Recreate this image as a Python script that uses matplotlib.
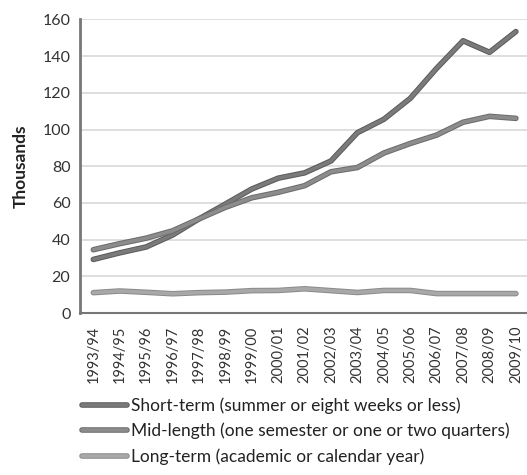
import numpy as np
from matplotlib import pyplot as plt
import matplotlib.patheffects as pe

plt.rcParams['font.family'] = ['Lato', 'DejaVu Sans']

years = ['1993/94', '1994/95', '1995/96', '1996/97', '1997/98', '1998/99',
         '1999/00', '2000/01', '2001/02', '2002/03', '2003/04', '2004/05',
         '2005/06', '2006/07', '2007/08', '2008/09', '2009/10']

# values in thousands
short_term = [29.2, 32.8, 36.0, 42.5, 51.3, 59.4, 67.6, 73.5, 76.4, 82.9,
              98.3, 105.6, 117.0, 133.4, 148.4, 142.1, 153.4]
mid_length = [34.5, 37.8, 40.8, 44.8, 51.3, 57.6, 62.8, 65.8, 69.4, 77.0,
              79.3, 87.2, 92.4, 97.0, 104.0, 107.2, 106.1]
long_term = [11.1, 12.0, 11.3, 10.5, 11.1, 11.4, 12.2, 12.3, 13.2, 12.2,
             11.2, 12.3, 12.3, 10.6, 10.6, 10.6, 10.6]

labels = ['Short-term (summer or eight weeks or less)',
          'Mid-length (one semester or one or two quarters)',
          'Long-term (academic or calendar year)']

fig = plt.figure(figsize=(5.27, 4.75), dpi=100)
ax = fig.add_axes([0.152, 0.341, 0.852, 0.618])

x = np.arange(len(years))
styles = [('#7a7a7a', '#5a5a5a'), ('#8c8c8c', '#6a6a6a'), ('#a8a8a8', '#8a8a8a')]
for vals, lab, (fill, edge) in zip([short_term, mid_length, long_term], labels, styles):
    ax.plot(x, vals, color=fill, lw=2.6, label=lab, solid_capstyle='round',
            solid_joinstyle='round',
            path_effects=[pe.Stroke(linewidth=4.0, foreground=edge), pe.Normal()])

ax.set_xlim(-0.5, len(years) - 0.5)
ax.set_ylim(0, 160)
ax.set_yticks(np.arange(0, 161, 20))
ax.set_xticks(x)
ax.set_xticklabels(years, rotation=90, fontsize=10.5, color='#333333')
ax.tick_params(axis='y', labelsize=11.5, colors='#333333', length=0, pad=7)
ax.tick_params(axis='x', length=0, pad=9)
ax.yaxis.grid(True, color='#d9d9d9', lw=1.2)
ax.set_axisbelow(True)
for s in ['top', 'right']:
    ax.spines[s].set_visible(False)
ax.spines['left'].set_color('#777777')
ax.spines['left'].set_linewidth(2)
ax.spines['bottom'].set_color('#777777')
ax.spines['bottom'].set_linewidth(1.5)
ax.set_ylabel('Thousands', fontsize=12.5, fontweight='bold', color='#222222', labelpad=10)

fig.legend(loc='upper left', bbox_to_anchor=(0.156, 0.163), frameon=False,
           fontsize=12.5, handlelength=2.6, handletextpad=0.2, labelspacing=0.5,
           borderaxespad=0, borderpad=0, labelcolor='#222222')

fig.savefig('out.png', dpi=100)
